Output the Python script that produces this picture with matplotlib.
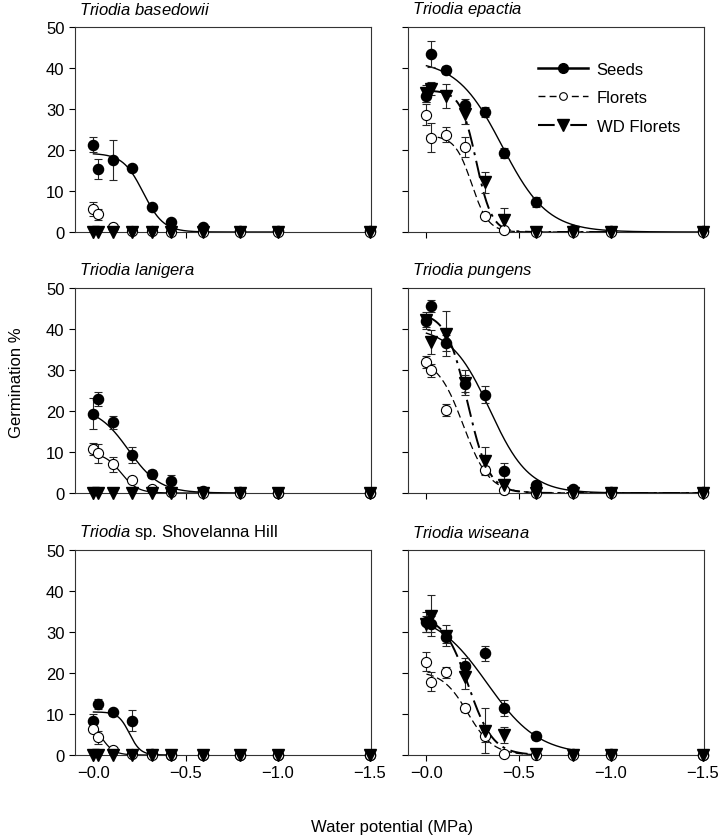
import numpy as np
import matplotlib
matplotlib.use("Agg")
import matplotlib.pyplot as plt
from matplotlib.lines import Line2D

plt.rcParams['font.family'] = ['Liberation Sans', 'DejaVu Sans']
plt.rcParams['mathtext.fontset'] = 'custom'
plt.rcParams['mathtext.it'] = 'Liberation Sans:italic'
plt.rcParams['mathtext.rm'] = 'Liberation Sans'

# water potential (MPa) of each treatment
psi = [0.0, -0.025, -0.105, -0.21, -0.315, -0.42, -0.595, -0.795, -1.0, -1.5]

# Triodia basedowii
bas_seeds = [21.3, 15.4, 17.6, 15.6, 6.0, 2.5, 1.3, 0.3, 0.2, 0.2]
bas_seeds_se = [1.8, 2.5, 4.8, 0.8, 0.4, 0.5, 0.5, 0, 0, 0]
bas_flor = [5.5, 4.3, 1.3, 0.3, 0.2, 0, 0, 0, 0, 0]
bas_flor_se = [1.7, 1.4, 0.3, 0, 0, 0, 0, 0, 0, 0]
bas_wd = [0, 0, 0, 0, 0, 0, 0, 0, 0, 0]
bas_wd_se = [0, 0, 0, 0, 0, 0, 0, 0, 0, 0]
bas_fit = {'seeds': (19.2, 0.27, 0.055, 1.0)}

# Triodia epactia
epa_seeds = [33.2, 43.5, 39.5, 30.9, 29.2, 19.3, 7.3, 0.4, 0.3, 0.2]
epa_seeds_se = [1.4, 3.2, 1.0, 1.5, 1.2, 1.2, 1.3, 0, 0, 0]
epa_flor = [28.6, 23.0, 23.7, 20.7, 4.0, 0.6, 0, 0, 0, 0]
epa_flor_se = [2.5, 3.6, 1.8, 2.5, 0.8, 0.3, 0, 0, 0, 0]
epa_wd = [33.8, 35.0, 33.2, 28.8, 12.1, 2.9, 0, 0, 0, 0]
epa_wd_se = [2.0, 1.5, 3.0, 2.5, 2.5, 3.0, 0, 0, 0, 0]
epa_fit = {'seeds': (42.0, 0.41, 0.123, 1.5), 'flor': (23.5, 0.245, 0.045, 1.0),
           'wd': (34.5, 0.27, 0.0425, 1.0)}

# Triodia lanigera
lan_seeds = [19.3, 22.9, 17.2, 9.3, 4.6, 3.0, 0.6, 0.2, 0.1, 0.1]
lan_seeds_se = [3.8, 1.8, 1.7, 2.0, 1.0, 1.5, 0.3, 0, 0, 0]
lan_flor = [10.7, 9.7, 7.0, 3.1, 1.0, 0.2, 0, 0, 0, 0]
lan_flor_se = [1.5, 2.3, 1.8, 0.3, 0.3, 0, 0, 0, 0, 0]
lan_wd = [0, 0, 0, 0, 0, 0, 0, 0, 0, 0]
lan_wd_se = [0, 0, 0, 0, 0, 0, 0, 0, 0, 0]
lan_fit = {'seeds': (21.0, 0.19, 0.085, 0.8), 'flor': (9.8, 0.15, 0.045, 0.6)}

# Triodia pungens
pun_seeds = [42.0, 45.6, 36.6, 26.7, 24.0, 5.3, 2.0, 1.0, 0.3, 0.3]
pun_seeds_se = [1.5, 1.5, 2.0, 2.0, 2.0, 2.0, 0.8, 0.3, 0, 0]
pun_flor = [32.0, 29.9, 20.2, np.nan, 5.7, 0.7, 0, 0, 0, 0]
pun_flor_se = [1.5, 1.5, 1.5, 0, 1.0, 0.3, 0, 0, 0, 0]
pun_wd = [42.1, 36.8, 38.8, 26.9, 7.8, 1.9, 0, 0, 0, 0]
pun_wd_se = [2.0, 3.0, 5.5, 3.0, 3.5, 1.0, 0, 0, 0, 0]
pun_fit = {'seeds': (40.5, 0.344, 0.106, 1.5), 'flor': (33.0, 0.2, 0.07, 1.5),
           'wd': (44.0, 0.223, 0.058, 1.5)}

# Triodia sp. Shovelanna Hill
sho_seeds = [8.4, 12.4, 10.4, 8.4, 0.2, 0.1, 0.1, 0, 0, 0]
sho_seeds_se = [1.5, 1.3, 0.8, 2.6, 0, 0, 0, 0, 0, 0]
sho_flor = [6.3, 4.3, 1.3, 0.2, 0, 0, 0, 0, 0, 0]
sho_flor_se = [0.5, 1.5, 0.3, 0, 0, 0, 0, 0, 0, 0]
sho_wd = [0, 0, 0, 0, 0, 0, 0, 0, 0, 0]
sho_wd_se = [0, 0, 0, 0, 0, 0, 0, 0, 0, 0]
sho_fit = {'seeds': (10.5, 0.195, 0.03, 0.4), 'flor': (9.0, 0.04, 0.035, 0.3)}

# Triodia wiseana
wis_seeds = [32.4, 32.0, 28.7, 21.6, 24.8, 11.5, 4.7, 0.3, 0.2, 0.1]
wis_seeds_se = [2.5, 2.0, 1.5, 2.0, 1.8, 2.0, 1.0, 0, 0, 0]
wis_flor = [22.8, 17.9, 20.2, 11.5, 4.7, 0.3, 0, 0, 0, 0]
wis_flor_se = [2.3, 2.3, 1.3, 1.0, 1.5, 0, 0, 0, 0, 0]
wis_wd = [32.0, 34.0, 29.1, 19.0, 5.9, 4.9, 0.2, 0, 0, 0]
wis_wd_se = [2.0, 5.0, 2.5, 3.0, 5.5, 2.0, 0, 0, 0, 0]
wis_fit = {'seeds': (35.0, 0.329, 0.14, 0.8), 'flor': (20.5, 0.224, 0.069, 0.6),
           'wd': (34.0, 0.227, 0.067, 0.6)}

titles = [r'$\it{Triodia\ basedowii}$', r'$\it{Triodia\ epactia}$',
          r'$\it{Triodia\ lanigera}$', r'$\it{Triodia\ pungens}$',
          r'$\it{Triodia}$ sp. Shovelanna Hill', r'$\it{Triodia\ wiseana}$']
xtick_vals = [0, -0.5, -1.0, -1.5]
xtick_labels = ['\u22120.0', '\u22120.5', '\u22121.0', '\u22121.5']

panels = [
    (bas_seeds, bas_seeds_se, bas_flor, bas_flor_se, bas_wd, bas_wd_se, bas_fit),
    (epa_seeds, epa_seeds_se, epa_flor, epa_flor_se, epa_wd, epa_wd_se, epa_fit),
    (lan_seeds, lan_seeds_se, lan_flor, lan_flor_se, lan_wd, lan_wd_se, lan_fit),
    (pun_seeds, pun_seeds_se, pun_flor, pun_flor_se, pun_wd, pun_wd_se, pun_fit),
    (sho_seeds, sho_seeds_se, sho_flor, sho_flor_se, sho_wd, sho_wd_se, sho_fit),
    (wis_seeds, wis_seeds_se, wis_flor, wis_flor_se, wis_wd, wis_wd_se, wis_fit),
]


def sigmoid(p, a, p0, b):
    return a / (1 + np.exp((p - p0) / b))


line_styles = {'seeds': ('-', 1.0), 'flor': ((0, (6, 3)), 0.9),
               'wd': ((0, (9, 3, 1.5, 3)), 1.4)}
solid_florets = {2, 4}

fig = plt.figure(figsize=(7.19, 8.37), dpi=100)
lefts = [75 / 719, 408 / 719]
tops = [28, 289, 551]
W, H = 296 / 719, 205 / 837

for i, (s, s_se, f, f_se, w, w_se, fits) in enumerate(panels):
    row, col = divmod(i, 2)
    ax = fig.add_axes([lefts[col], 1 - (tops[row] + 205) / 837, W, H])

    # fitted curves
    for key, (a, p0, b, pmax) in fits.items():
        p = np.linspace(0, pmax, 400)
        ls, lw = line_styles[key]
        if key == 'flor' and i in solid_florets:
            ls = '-'
        ax.plot(-p, sigmoid(p, a, p0, b), color='k', ls=ls, lw=lw, zorder=2)

    for vals, se in [(s, s_se), (f, f_se), (w, w_se)]:
        ax.errorbar(psi, vals, yerr=se, fmt='none', ecolor='0.15',
                    elinewidth=0.8, capsize=3, capthick=0.8, zorder=3)

    ax.plot(psi, s, 'o', ms=7.3, color='k', clip_on=False, zorder=4)
    ax.plot(psi, f, 'o', ms=7.3, mfc='white', mec='k', mew=0.8,
            clip_on=False, zorder=5)
    ax.plot(psi, w, 'v', ms=8, color='k', clip_on=False, zorder=6)

    ax.set_xlim(0.1, -1.505)
    ax.set_ylim(0, 50)
    ax.set_yticks(range(0, 51, 10))
    ax.set_xticks(xtick_vals)
    if row == 2:
        ax.set_xticklabels(xtick_labels)
    else:
        ax.set_xticklabels([])
    if col == 1:
        ax.set_yticklabels([])
    ax.tick_params(direction='out', length=4, width=0.8, labelsize=12,
                   colors='k')
    for sp in ax.spines.values():
        sp.set_linewidth(0.8)
        sp.set_color('0.2')
    ax.annotate(titles[i], xy=(0, 1), xycoords='axes fraction',
                xytext=(3, 13), textcoords='offset points',
                va='center', ha='left', fontsize=12)

    if i == 1:
        handles = [
            Line2D([], [], color='k', ls='-', lw=1.8, marker='o', ms=7),
            Line2D([], [], color='k', ls=(0, (5, 3)), lw=1.0, marker='o',
                   ms=5.5, mfc='white', mew=0.8),
            Line2D([], [], color='k', ls=(0, (8, 3, 1.5, 3)), lw=1.5,
                   marker='v', ms=8),
        ]
        ax.legend(handles, ['Seeds', 'Florets', 'WD Florets'], loc='upper left',
                  bbox_to_anchor=(0.44, 0.83), frameon=False, fontsize=12,
                  handlelength=3.0, handletextpad=0.5, labelspacing=0.8,
                  borderpad=0, borderaxespad=0)

fig.text(0.023, 0.5424, 'Germination %', rotation=90, va='center',
         ha='center', fontsize=12)
fig.text(0.545, 0.011, 'Water potential (MPa)', ha='center', va='center',
         fontsize=12)

fig.savefig('out.png', dpi=100)
